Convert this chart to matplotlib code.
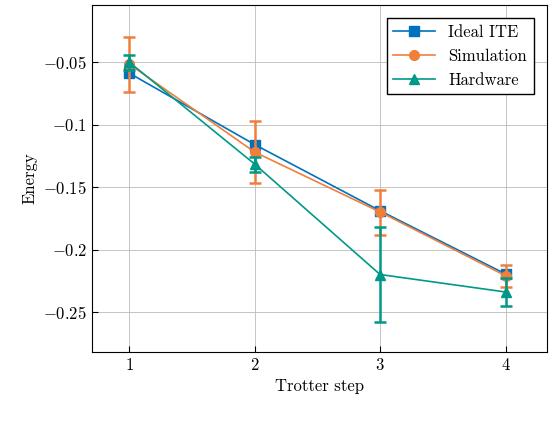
import matplotlib
matplotlib.use("Agg")
import matplotlib.pyplot as plt
from matplotlib.lines import Line2D

plt.rcParams['font.family'] = 'serif'
plt.rcParams['font.serif'] = ['cmr10']
plt.rcParams['mathtext.fontset'] = 'cm'
plt.rcParams['axes.formatter.use_mathtext'] = True
plt.rcParams['font.size'] = 12

steps = [1, 2, 3, 4]
ideal = [-0.0588, -0.116, -0.169, -0.2196]
sim = [-0.0516, -0.122, -0.170, -0.221]
sim_err = [0.022, 0.025, 0.018, 0.009]
hw = [-0.050, -0.1316, -0.220, -0.234]
hw_err = [0.006, 0.006, 0.038, 0.011]

fig = plt.figure(figsize=(5.52, 4.32), dpi=100)
ax = fig.add_axes([92/552, 80/432, 455/552, 347/432])
c_i, c_s, c_h = '#0072BD', '#F07F3C', '#009988'
ax.plot(steps, ideal, '-s', color=c_i, ms=7, lw=1.2, zorder=3)
ax.errorbar(steps, sim, yerr=sim_err, fmt='-o', color=c_s, ms=7, lw=1.2,
            elinewidth=1.8, capsize=4, capthick=1.8, zorder=4)
ax.errorbar(steps, hw, yerr=hw_err, fmt='-^', color=c_h, ms=7, lw=1.2,
            elinewidth=1.8, capsize=4, capthick=1.8, zorder=5)
ax.set_xlim(0.705, 4.33)
ax.set_ylim(-0.282, -0.0044)
ax.set_xticks(steps)
ax.set_yticks([-0.05, -0.1, -0.15, -0.2, -0.25])
ax.set_yticklabels(['$-0.05$', '$-0.1$', '$-0.15$', '$-0.2$', '$-0.25$'])
ax.set_xticklabels(['$1$', '$2$', '$3$', '$4$'])
ax.grid(True, color='#bbbbbb', lw=0.6)
ax.set_axisbelow(True)
ax.tick_params(direction='in', length=4, labelsize=12)
ax.set_xlabel('Trotter step')
ax.set_ylabel('Energy')
handles = [Line2D([], [], color=c_i, marker='s', ms=7, lw=1.2),
           Line2D([], [], color=c_s, marker='o', ms=7, lw=1.2),
           Line2D([], [], color=c_h, marker='^', ms=7, lw=1.2)]
ax.legend(handles, ['Ideal ITE', 'Simulation', 'Hardware'], loc='upper right',
          fancybox=False, edgecolor='black', framealpha=1,
          borderaxespad=0.8, handlelength=2.5)
fig.savefig('out.png', dpi=100)
